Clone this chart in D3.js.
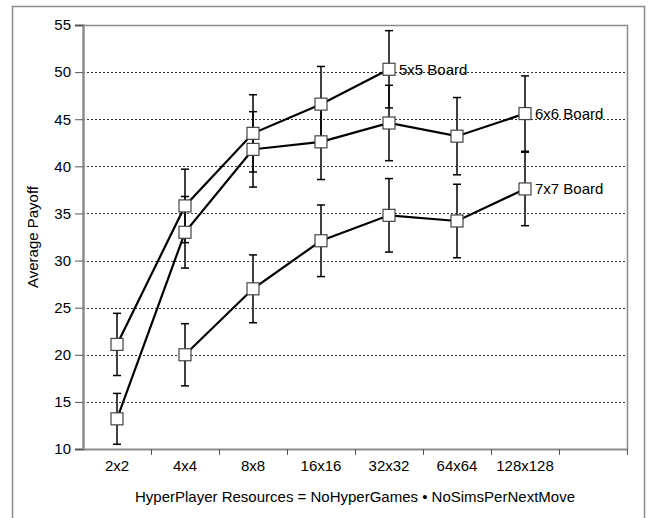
<!DOCTYPE html>
<html>
<head>
<meta charset="utf-8">
<script src="https://cdn.jsdelivr.net/npm/d3@7"></script>
<style>
  html, body { margin: 0; padding: 0; background: #fff; }
  svg { display: block; font-family: Arial, "Liberation Sans", sans-serif; }
</style>
</head>
<body>
<svg id="chart" width="648" height="518"></svg>
<script>
// ---- data ----
const categories = ["2x2", "4x4", "8x8", "16x16", "32x32", "64x64", "128x128", ""];
const seriesNames = ["5x5 Board", "6x6 Board", "7x7 Board"];
const values5x5 = [21.1, 35.8, 43.5, 46.6, 50.3, null, null];
const errors5x5 = [3.3, 3.9, 4.1, 4.0, 4.1, null, null];
const values6x6 = [13.2, 33.0, 41.8, 42.6, 44.6, 43.2, 45.6];
const errors6x6 = [2.7, 3.8, 4.0, 4.0, 4.0, 4.1, 4.0];
const values7x7 = [null, 20.0, 27.0, 32.1, 34.8, 34.2, 37.6];
const errors7x7 = [null, 3.3, 3.6, 3.8, 3.9, 3.9, 3.9];
const yTicks = [10, 15, 20, 25, 30, 35, 40, 45, 50, 55];
const yTitle = "Average Payoff";
const xTitle = "HyperPlayer Resources = NoHyperGames \u2022 NoSimsPerNextMove";

const series = [
  { name: seriesNames[0], values: values5x5, errors: errors5x5 },
  { name: seriesNames[1], values: values6x6, errors: errors6x6 },
  { name: seriesNames[2], values: values7x7, errors: errors7x7 }
];

// ---- layout ----
const svg = d3.select("#chart");
const mLeft = 83, mRight = 627, mTop = 25, mBottom = 449;
const axisGray = "#8c8c8c";
const fs = 15;
const ff = "Arial, 'Liberation Sans', sans-serif";

// outer frame
svg.append("rect").attr("x", 12.5).attr("y", 6.5).attr("width", 632).attr("height", 514)
  .attr("fill", "#fff").attr("stroke", axisGray).attr("stroke-width", 1.5);

const x = d3.scaleBand().domain(categories.map((c, i) => i)).range([mLeft, mRight]).padding(0);
const y = d3.scaleLinear().domain([10, 55]).range([mBottom, mTop]);
const cx = i => x(i) + x.bandwidth() / 2;

// gridlines
svg.append("g").selectAll("line").data(yTicks.filter(t => t > 10 && t < 55)).join("line")
  .attr("x1", mLeft).attr("x2", mRight)
  .attr("y1", d => Math.round(y(d)) + 0.5).attr("y2", d => Math.round(y(d)) + 0.5)
  .attr("stroke", "#333").attr("stroke-width", 1).attr("stroke-dasharray", "2,2");

// plot frame top/right
svg.append("path")
  .attr("d", `M${mLeft},${mTop + 0.5}H${mRight + 0.5}V${mBottom}`)
  .attr("fill", "none").attr("stroke", axisGray).attr("stroke-width", 1.5);

// y axis
const yAxis = d3.axisLeft(y).tickValues(yTicks).tickSize(8).tickPadding(4).tickFormat(d3.format("d"));
const gy = svg.append("g").attr("transform", `translate(${mLeft},0)`).call(yAxis);
gy.select(".domain").attr("stroke", axisGray).attr("stroke-width", 2.5);
gy.selectAll(".tick line").attr("stroke", "#555").attr("stroke-width", 1);
gy.selectAll(".tick text").attr("font-size", fs).attr("fill", "#000").attr("font-family", ff);

// x axis
const xAxis = d3.axisBottom(x).tickSize(0).tickFormat(i => categories[i]);
const gx = svg.append("g").attr("transform", `translate(0,${mBottom})`).call(xAxis);
gx.select(".domain").attr("stroke", axisGray).attr("stroke-width", 2);
gx.selectAll(".tick text").attr("font-size", fs).attr("fill", "#000").attr("dy", 0)
  .attr("y", 22).attr("font-family", ff);
// boundary tick marks
const bounds = categories.map((c, i) => x(i) + x.bandwidth());
svg.append("g").selectAll("line").data(bounds).join("line")
  .attr("x1", d => Math.round(d) + 0.5).attr("x2", d => Math.round(d) + 0.5)
  .attr("y1", mBottom).attr("y2", mBottom + 6)
  .attr("stroke", "#555").attr("stroke-width", 1);

// titles
svg.append("text").attr("transform", `translate(38,${(mTop + mBottom) / 2}) rotate(-90)`)
  .attr("text-anchor", "middle").attr("font-size", fs).attr("fill", "#000").text(yTitle);
svg.append("text").attr("x", (mLeft + mRight) / 2).attr("y", 502)
  .attr("text-anchor", "middle").attr("font-size", fs).attr("fill", "#000").text(xTitle);

// error bars
const capW = 4;
series.forEach(s => {
  const pts = s.values.map((v, i) => ({ i, v, e: s.errors[i] })).filter(p => p.v != null);
  const g = svg.append("g");
  g.selectAll("line.eb").data(pts).join("line").attr("class", "eb")
    .attr("x1", p => cx(p.i)).attr("x2", p => cx(p.i))
    .attr("y1", p => y(p.v - p.e)).attr("y2", p => y(p.v + p.e))
    .attr("stroke", "#000").attr("stroke-width", 1.5);
  ["lo", "hi"].forEach(k => {
    g.selectAll("line.cap" + k).data(pts).join("line").attr("class", "cap" + k)
      .attr("x1", p => cx(p.i) - capW).attr("x2", p => cx(p.i) + capW)
      .attr("y1", p => y(k === "lo" ? p.v - p.e : p.v + p.e))
      .attr("y2", p => y(k === "lo" ? p.v - p.e : p.v + p.e))
      .attr("stroke", "#000").attr("stroke-width", 1.5);
  });
});

// lines
const line = d3.line().defined(d => d.v != null).x(d => cx(d.i)).y(d => y(d.v));
series.forEach(s => {
  svg.append("path").datum(s.values.map((v, i) => ({ i, v })))
    .attr("d", line).attr("fill", "none").attr("stroke", "#000").attr("stroke-width", 2.2);
});

// markers
const sq = 12;
series.forEach(s => {
  const pts = s.values.map((v, i) => ({ i, v })).filter(p => p.v != null);
  svg.append("g").selectAll("rect").data(pts).join("rect")
    .attr("x", p => cx(p.i) - sq / 2).attr("y", p => y(p.v) - sq / 2)
    .attr("width", sq).attr("height", sq)
    .attr("fill", "#fff").attr("stroke", "#444").attr("stroke-width", 1.2);
});

// series labels at last point
series.forEach(s => {
  let last = -1;
  s.values.forEach((v, i) => { if (v != null) last = i; });
  svg.append("text").attr("x", cx(last) + 10).attr("y", y(s.values[last]))
    .attr("dy", "0.35em").attr("font-size", fs).attr("fill", "#000").text(s.name);
});
</script>
</body>
</html>
